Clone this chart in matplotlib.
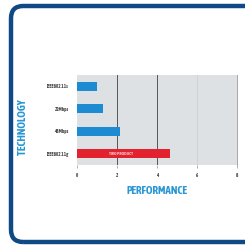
import matplotlib
matplotlib.use("Agg")
import matplotlib.pyplot as plt
from matplotlib.patches import FancyBboxPatch

categories = ["IEEE802.11g", "48Mbps", "22Mbps", "IEEE802.11s"]
values = [4.67, 2.15, 1.3, 0.98]
bar_colors = ["#e3222f", "#1c8bd1", "#1c8bd1", "#1c8bd1"]
x_ticks = [0, 2, 4, 6, 8]
bar_text = "TWO PRODUCT"

cond = ["Asap Condensed", "DejaVu Sans"]

fig = plt.figure(figsize=(2.45, 2.48), dpi=100)
fig.patch.set_facecolor("white")

ax = fig.add_axes([77 / 245, 1 - 165 / 248, 160 / 245, 90 / 248])
ax.set_facecolor("#dde1e3")
ypos = list(range(len(categories)))
ax.barh(ypos, values, height=0.4, color=bar_colors, zorder=3)
ax.set_xlim(0, 8)
ax.set_ylim(-0.5, 3.5)
ax.set_xticks(x_ticks)
ax.set_xticklabels([str(t) for t in x_ticks], fontsize=3.5, color="#444444",
                   fontweight="bold", family=cond)
ax.set_yticks(ypos)
ax.set_yticklabels(categories, fontsize=3.5, color="#444444",
                   fontweight="bold", family=cond)
ax.tick_params(axis="y", length=0, pad=6)
ax.tick_params(axis="x", length=2, width=0.4, color="#777777", pad=4)
for x, c, w in [(2, "#555555", 0.7), (4, "#555555", 0.7), (6, "#cfd3d5", 0.7)]:
    ax.axvline(x, color=c, linewidth=w, zorder=2)
for s in ["top", "bottom", "left"]:
    ax.spines[s].set_visible(False)
ax.spines["right"].set_color("#999999")
ax.spines["right"].set_linewidth(0.6)

ax.text(2.2, 0, bar_text, fontsize=3.2, color="#f6c9cc", fontweight="bold",
        family=cond, ha="center", va="center", zorder=4)

ax.set_xlabel("PERFORMANCE", fontsize=8, color="#2a97d3", fontweight="bold",
              family=cond, labelpad=5)
fig.text(23 / 245, 1 - 127 / 248, "TECHNOLOGY", rotation=90, fontsize=8,
         color="#2a97d3", fontweight="bold", family=cond,
         ha="center", va="center")

# rounded frame
frame = FancyBboxPatch((11 / 245, 6 / 248), (270 - 11) / 245, (242 - 6) / 248,
                       boxstyle="round,pad=0,rounding_size=0.05",
                       transform=fig.transFigure, facecolor="none",
                       edgecolor="#0f4a86", linewidth=3.2, zorder=10)
fig.patches.append(frame)

fig.savefig("out.png", dpi=100)
